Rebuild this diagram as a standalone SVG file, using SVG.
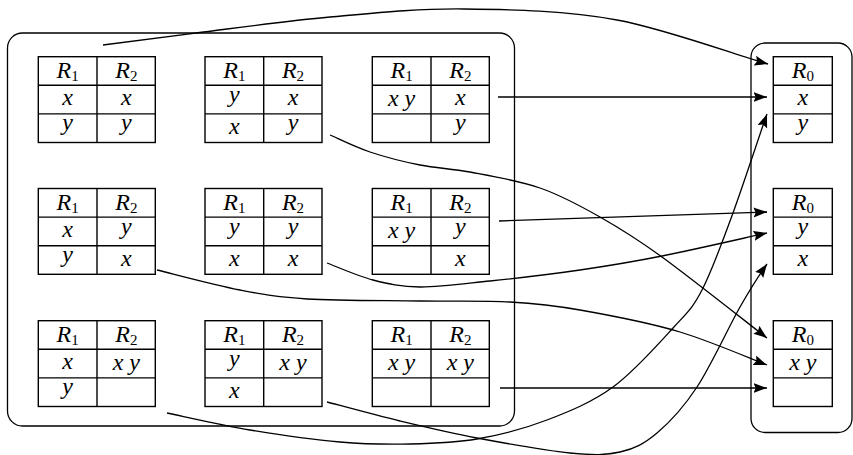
<svg xmlns="http://www.w3.org/2000/svg" width="853" height="455" viewBox="0 0 853 455">
  <style>
    .frame { fill: none; stroke: #000; stroke-width: 1.3; }
    .grid { fill: none; stroke: #000; stroke-width: 1.4; }
    .t { font-family: "Liberation Serif", "Times New Roman", serif; font-style: italic; font-size: 24px; text-anchor: middle; fill: #000; }
    .sub { font-style: normal; font-size: 15px; }
    .edge { fill: none; stroke: #000; stroke-width: 1.3; marker-end: url(#ah); }
  </style>
  <defs>
    <marker id="ah" markerUnits="userSpaceOnUse" markerWidth="16" markerHeight="12" refX="13.5" refY="5" orient="auto">
      <path d="M0,0 L13.5,5 L0,10 L2.2,5 z" fill="#000"/>
    </marker>
    <!-- two-column, three-row grid -->
    <g id="g2">
      <rect class="grid" x="0" y="0" width="117" height="85.8"/>
      <line class="grid" x1="58.7" y1="0" x2="58.7" y2="85.8"/>
      <line class="grid" x1="0" y1="28.6" x2="117" y2="28.6"/>
      <line class="grid" x1="0" y1="57.2" x2="117" y2="57.2"/>
    </g>
    <!-- one-column, three-row grid -->
    <g id="g1">
      <rect class="grid" x="0" y="0" width="59" height="85.8"/>
      <line class="grid" x1="0" y1="28.6" x2="59" y2="28.6"/>
      <line class="grid" x1="0" y1="57.2" x2="59" y2="57.2"/>
    </g>
  </defs>

  <!-- enclosing frames -->
  <rect class="frame" x="7.5" y="33" width="507" height="393" rx="15"/>
  <rect class="frame" x="751" y="43" width="101" height="389.5" rx="14"/>

  <!-- left group: R1 / R2 tables -->
  <g id="t11" transform="translate(38.3,56.7)">
    <use href="#g2"/>
    <text class="t" x="29.3" y="21">R<tspan class="sub" dy="3.5">1</tspan></text>
    <text class="t" x="88" y="21">R<tspan class="sub" dy="3.5">2</tspan></text>
    <text class="t" x="29.3" y="48.8">x</text>
    <text class="t" x="88" y="48.8">x</text>
    <text class="t" x="29.3" y="73.5">y</text>
    <text class="t" x="88" y="73.5">y</text>
  </g>
  <g id="t12" transform="translate(205,56.7)">
    <use href="#g2"/>
    <text class="t" x="29.3" y="21">R<tspan class="sub" dy="3.5">1</tspan></text>
    <text class="t" x="88" y="21">R<tspan class="sub" dy="3.5">2</tspan></text>
    <text class="t" x="29.3" y="45.5">y</text>
    <text class="t" x="88" y="48.8">x</text>
    <text class="t" x="29.3" y="77.3">x</text>
    <text class="t" x="88" y="73.5">y</text>
  </g>
  <g id="t13" transform="translate(372.3,56.7)">
    <use href="#g2"/>
    <text class="t" x="29.3" y="21">R<tspan class="sub" dy="3.5">1</tspan></text>
    <text class="t" x="88" y="21">R<tspan class="sub" dy="3.5">2</tspan></text>
    <text class="t" x="29.3" y="49">x y</text>
    <text class="t" x="88" y="48.8">x</text>
    <text class="t" x="88" y="73.5">y</text>
  </g>

  <g id="t21" transform="translate(38.3,188.5)">
    <use href="#g2"/>
    <text class="t" x="29.3" y="21">R<tspan class="sub" dy="3.5">1</tspan></text>
    <text class="t" x="88" y="21">R<tspan class="sub" dy="3.5">2</tspan></text>
    <text class="t" x="29.3" y="48.8">x</text>
    <text class="t" x="88" y="45.5">y</text>
    <text class="t" x="29.3" y="73.5">y</text>
    <text class="t" x="88" y="77.3">x</text>
  </g>
  <g id="t22" transform="translate(205,188.5)">
    <use href="#g2"/>
    <text class="t" x="29.3" y="21">R<tspan class="sub" dy="3.5">1</tspan></text>
    <text class="t" x="88" y="21">R<tspan class="sub" dy="3.5">2</tspan></text>
    <text class="t" x="29.3" y="45.5">y</text>
    <text class="t" x="88" y="45.5">y</text>
    <text class="t" x="29.3" y="77.3">x</text>
    <text class="t" x="88" y="77.3">x</text>
  </g>
  <g id="t23" transform="translate(372.3,188.5)">
    <use href="#g2"/>
    <text class="t" x="29.3" y="21">R<tspan class="sub" dy="3.5">1</tspan></text>
    <text class="t" x="88" y="21">R<tspan class="sub" dy="3.5">2</tspan></text>
    <text class="t" x="29.3" y="49">x y</text>
    <text class="t" x="88" y="45.5">y</text>
    <text class="t" x="88" y="77.3">x</text>
  </g>

  <g id="t31" transform="translate(38.3,320.7)">
    <use href="#g2"/>
    <text class="t" x="29.3" y="21">R<tspan class="sub" dy="3.5">1</tspan></text>
    <text class="t" x="88" y="21">R<tspan class="sub" dy="3.5">2</tspan></text>
    <text class="t" x="29.3" y="48.8">x</text>
    <text class="t" x="88" y="49">x y</text>
    <text class="t" x="29.3" y="73.5">y</text>
  </g>
  <g id="t32" transform="translate(205,320.7)">
    <use href="#g2"/>
    <text class="t" x="29.3" y="21">R<tspan class="sub" dy="3.5">1</tspan></text>
    <text class="t" x="88" y="21">R<tspan class="sub" dy="3.5">2</tspan></text>
    <text class="t" x="29.3" y="45.5">y</text>
    <text class="t" x="88" y="49">x y</text>
    <text class="t" x="29.3" y="77.3">x</text>
  </g>
  <g id="t33" transform="translate(372.3,320.7)">
    <use href="#g2"/>
    <text class="t" x="29.3" y="21">R<tspan class="sub" dy="3.5">1</tspan></text>
    <text class="t" x="88" y="21">R<tspan class="sub" dy="3.5">2</tspan></text>
    <text class="t" x="29.3" y="49">x y</text>
    <text class="t" x="88" y="49">x y</text>
  </g>

  <!-- right group: R0 tables -->
  <g id="r1" transform="translate(773.3,56.7)">
    <use href="#g1"/>
    <text class="t" x="29.5" y="21">R<tspan class="sub" dy="3.5">0</tspan></text>
    <text class="t" x="29.5" y="48.8">x</text>
    <text class="t" x="29.5" y="73.5">y</text>
  </g>
  <g id="r2" transform="translate(773.3,188.5)">
    <use href="#g1"/>
    <text class="t" x="29.5" y="21">R<tspan class="sub" dy="3.5">0</tspan></text>
    <text class="t" x="29.5" y="45.5">y</text>
    <text class="t" x="29.5" y="77.3">x</text>
  </g>
  <g id="r3" transform="translate(773.3,320.7)">
    <use href="#g1"/>
    <text class="t" x="29.5" y="21">R<tspan class="sub" dy="3.5">0</tspan></text>
    <text class="t" x="29.5" y="49">x y</text>
  </g>

  <!-- connectors -->
  <g id="edges">
    <path class="edge" d="M103,45 C118.5,43 158.2,37.7 196,33 C233.8,28.3 285.3,21 330,17 C374.7,13 416.2,8.5 464,9 C511.8,9.5 566.3,10.7 617,20 C667.7,29.3 742.8,57.5 768,64"/>
    <path class="edge" d="M498,97 L767,97"/>
    <path class="edge" d="M330,135 C336.7,137.8 355,147 370,152 C385,157 403.3,161.7 420,165 C436.7,168.3 450,168.5 470,172 C490,175.8 518.3,180.5 540,188 C561.7,195.5 579.7,205.5 600,217 C620.3,228.5 634.2,236.8 662,257 C689.8,277.2 749.5,324.5 767,338"/>
    <path class="edge" d="M499,221 L767,212"/>
    <path class="edge" d="M327,263 C334.7,265.8 357.5,276 373,280 C388.5,284 400.5,286.8 420,287 C439.5,287.2 463.3,283.8 490,281 C516.7,278.2 551.3,274.2 580,270 C608.7,265.8 630.8,262.2 662,256 C693.2,249.8 749.5,236.8 767,233"/>
    <path class="edge" d="M157,270 C170.8,273.3 215,285.2 240,290 C265,294.8 277,297.2 307,299 C337,300.8 386.2,300.5 420,301 C453.8,301.5 483.3,300.5 510,302 C536.7,303.5 551.7,305 580,310 C608.3,315 648.7,322.5 680,332 C711.3,341.5 752.5,359.5 767,365"/>
    <path class="edge" d="M500,388 L767,388"/>
    <path class="edge" d="M167,413 C180.8,415.8 221.2,425.2 250,430 C278.8,434.8 313.3,439.7 340,442 C366.7,444.3 387.2,444.5 410,444 C432.8,443.5 454.2,443 477,439 C499.8,435 524.3,428.7 547,420 C569.7,411.3 592,402.3 613,387 C634,371.7 658.2,344.2 673,328 C687.8,311.8 692,309.2 702,290 C712,270.8 722.2,242.5 733,213 C743.8,183.5 761.3,129.7 767,114"/>
    <path class="edge" d="M327,402 C339.2,405.2 375,415 400,421 C425,427 448.7,432.7 477,438 C505.3,443.3 546.2,450.7 570,453 C593.8,455.3 605.5,455.3 620,452 C634.5,448.7 644.2,443.8 657,433 C669.8,422.2 683.2,408 697,387 C710.8,366 728.3,327.7 740,307 C751.7,286.3 762.5,270.3 767,264"/>
  </g>
</svg>
